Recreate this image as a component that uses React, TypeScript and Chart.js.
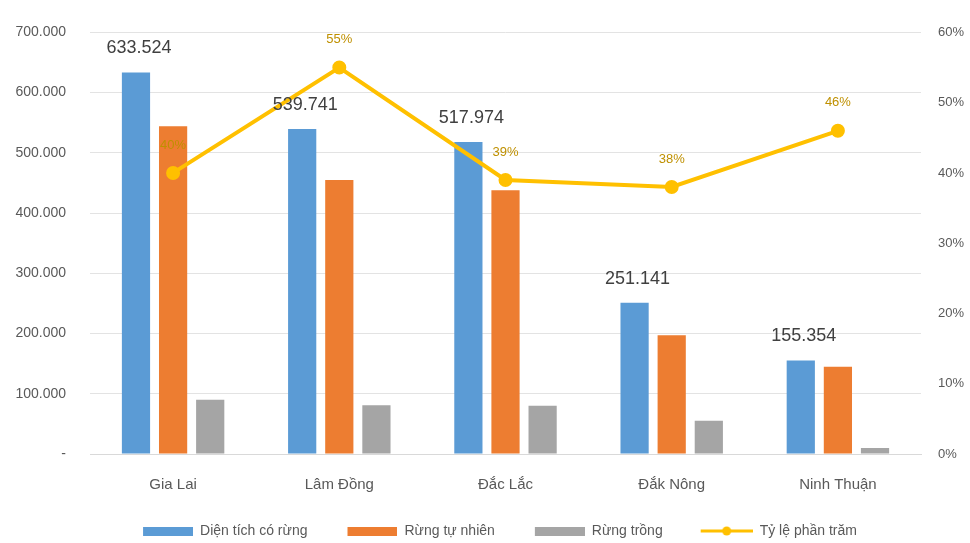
import React, { useEffect, useRef } from "react";
import { Chart, registerables } from "chart.js";

Chart.register(...registerables);

const categories = ["Gia Lai", "Lâm Đồng", "Đắc Lắc", "Đắk Nông", "Ninh Thuận"];
const forestArea = [633524, 539741, 517974, 251141, 155354];
const naturalForest = [544000, 455000, 438000, 197000, 145000];
const plantedForest = [90000, 81000, 80000, 55000, 10000];
const percentage = [40, 55, 39, 38, 46];
const seriesNames = ["Diện tích có rừng", "Rừng tự nhiên", "Rừng trồng", "Tỷ lệ phần trăm"];

const BLUE = "#5B9BD5";
const ORANGE = "#ED7D31";
const GRAY = "#A5A5A5";
const GOLD = "#FFC000";
const FONT = '"Liberation Sans", Arial, sans-serif';
const KEY_W = 80;

const fmt = (v: number) => String(Math.round(v)).replace(/\B(?=(\d{3})+(?!\d))/g, ".");

function rectImg(color: string) {
  const c = document.createElement("canvas");
  c.width = KEY_W;
  c.height = 9;
  const ctx = c.getContext("2d")!;
  ctx.fillStyle = color;
  ctx.fillRect(KEY_W - 50, 0, 50, 9);
  return c;
}

function lineImg(color: string) {
  const c = document.createElement("canvas");
  c.width = KEY_W;
  c.height = 12;
  const ctx = c.getContext("2d")!;
  const x0 = KEY_W - 52;
  ctx.strokeStyle = color;
  ctx.lineWidth = 3;
  ctx.beginPath();
  ctx.moveTo(x0, 6);
  ctx.lineTo(KEY_W, 6);
  ctx.stroke();
  ctx.fillStyle = color;
  ctx.beginPath();
  ctx.arc(x0 + 26, 6, 4.5, 0, Math.PI * 2);
  ctx.fill();
  return c;
}

const labelPlugin = {
  id: "valueLabels",
  afterDatasetsDraw(chart: any) {
    const ctx = chart.ctx;
    ctx.save();
    ctx.textAlign = "center";
    ctx.textBaseline = "middle";
    ctx.font = `18px ${FONT}`;
    ctx.fillStyle = "#404040";
    chart.getDatasetMeta(0).data.forEach((el: any, i: number) => {
      ctx.fillText(fmt(forestArea[i]), el.x + 3, el.y - 24);
    });
    ctx.font = `13px ${FONT}`;
    ctx.fillStyle = "#BF9000";
    chart.getDatasetMeta(3).data.forEach((el: any, i: number) => {
      ctx.fillText(percentage[i] + "%", el.x, el.y - 28);
    });
    ctx.restore();
  },
};

export default function App() {
  const ref = useRef<HTMLCanvasElement>(null);

  useEffect(() => {
    document.body.style.margin = "0";
    const imgs = [rectImg(BLUE), rectImg(ORANGE), rectImg(GRAY), lineImg(GOLD)];
    const chart = new Chart(ref.current!, {
      type: "bar",
      data: {
        labels: categories,
        datasets: [
          {
            label: seriesNames[0],
            data: forestArea,
            backgroundColor: BLUE,
            yAxisID: "y",
            order: 1,
            categoryPercentage: 0.67,
            barPercentage: 0.76,
          },
          {
            label: seriesNames[1],
            data: naturalForest,
            backgroundColor: ORANGE,
            yAxisID: "y",
            order: 1,
            categoryPercentage: 0.67,
            barPercentage: 0.76,
          },
          {
            label: seriesNames[2],
            data: plantedForest,
            backgroundColor: GRAY,
            yAxisID: "y",
            order: 1,
            categoryPercentage: 0.67,
            barPercentage: 0.76,
          },
          {
            type: "line",
            label: seriesNames[3],
            data: percentage,
            borderColor: GOLD,
            backgroundColor: GOLD,
            borderWidth: 4,
            pointRadius: 5,
            pointBackgroundColor: GOLD,
            pointBorderColor: GOLD,
            tension: 0,
            yAxisID: "y1",
            order: 0,
          } as any,
        ],
      },
      options: {
        animation: false,
        responsive: false,
        maintainAspectRatio: false,
        layout: { padding: { top: 28, left: 0, right: 0, bottom: -5 } },
        plugins: {
          tooltip: { enabled: false },
          legend: {
            position: "bottom",
            labels: {
              usePointStyle: true,
              pointStyleWidth: KEY_W,
              boxHeight: 12,
              padding: 10,
              color: "#595959",
              font: { size: 14, family: FONT },
              sort: (a: any, b: any) => a.datasetIndex - b.datasetIndex,
              generateLabels: (chart: any) => {
                const items = Chart.defaults.plugins.legend.labels.generateLabels(chart);
                return items.map((it: any) => ({ ...it, pointStyle: imgs[it.datasetIndex] }));
              },
            },
          },
        },
        scales: {
          x: {
            grid: { display: false, drawTicks: false },
            border: { display: true, color: "#D9D9D9" },
            ticks: { color: "#595959", font: { size: 15, family: FONT }, padding: 22 },
            afterFit: (s: any) => {
              s.height = 60;
            },
          },
          y: {
            position: "left",
            min: 0,
            max: 700000,
            ticks: {
              stepSize: 100000,
              color: "#595959",
              font: { size: 14, family: FONT },
              padding: 24,
              callback: (v: any) => (Number(v) === 0 ? "-" : fmt(Number(v))),
            },
            grid: { color: "#E3E3E3", drawTicks: false },
            border: { display: false },
            afterFit: (s: any) => {
              s.width = 90;
            },
          },
          y1: {
            position: "right",
            min: 0,
            max: 60,
            ticks: {
              stepSize: 10,
              color: "#595959",
              font: { size: 13, family: FONT },
              padding: 17,
              callback: (v: any) => v + "%",
            },
            grid: { display: false, drawTicks: false },
            border: { display: false },
            afterFit: (s: any) => {
              s.width = 49;
            },
          },
        },
      } as any,
      plugins: [labelPlugin],
    });
    return () => chart.destroy();
  }, []);

  return (
    <div style={{ width: 970, height: 543 }}>
      <canvas ref={ref} width={970} height={543} style={{ display: "block" }} />
    </div>
  );
}
